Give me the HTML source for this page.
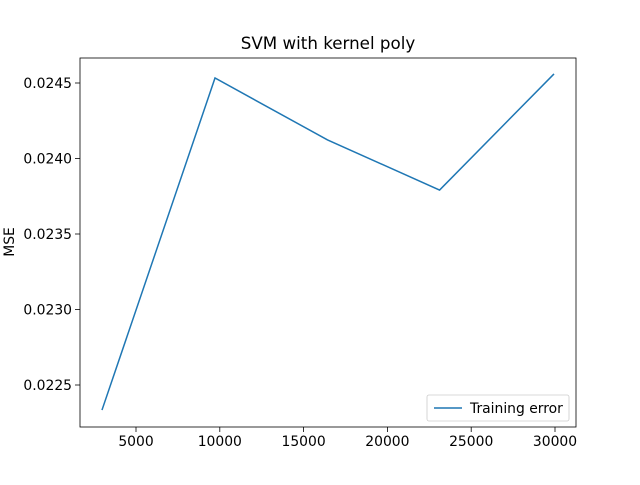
<!DOCTYPE html>
<html><head><meta charset="utf-8"><style>
body{margin:0;background:#fff;}
svg text{font-family:"DejaVu Sans","Liberation Sans",sans-serif;}
</style></head><body>
<svg id="chart" width="640" height="480" xmlns="http://www.w3.org/2000/svg">
<rect width="640" height="480" fill="#fff"/>
<text x="328" y="49" font-size="16.7" text-anchor="middle">SVM with kernel poly</text>
<text transform="translate(14,242) rotate(-90)" font-size="13.9" text-anchor="middle">MSE</text>
<g id="xticks"></g><g id="yticks"></g>
<polyline id="line" fill="none" stroke="#1f77b4" stroke-width="1.5"/>
<rect x="80" y="58" width="496" height="369" fill="none" stroke="#000" stroke-width="0.8"/>
<g>
<rect x="427" y="395" width="142" height="26" rx="2" fill="#fff" stroke="#ccc" stroke-width="0.8"/>
<line x1="434" y1="408" x2="462" y2="408" stroke="#1f77b4" stroke-width="1.5"/>
<text x="470" y="413" font-size="13.9">Training error</text>
</g>
</svg>
<script>
const xs=[2970,9714,16430,23113,29940];
const ys=[0.022334,0.024533,0.024123,0.023791,0.02456];
const xTicks=[5000,10000,15000,20000,25000,30000];
const yTicks=[0.0225,0.0230,0.0235,0.0240,0.0245];
const yLabels=["0.0225","0.0230","0.0235","0.0240","0.0245"];
const sx=v=>136+(v-5000)*(419/25000);
const sy=v=>385-(v-0.0225)*151000;
const NS="http://www.w3.org/2000/svg";
const line=document.getElementById('line');
line.setAttribute('points',xs.map((x,i)=>sx(x)+','+sy(ys[i])).join(' '));
const gx=document.getElementById('xticks');
xTicks.forEach(t=>{
 const l=document.createElementNS(NS,'line');
 l.setAttribute('x1',sx(t));l.setAttribute('x2',sx(t));l.setAttribute('y1',427);l.setAttribute('y2',432);l.setAttribute('stroke','#000');l.setAttribute('stroke-width','0.8');
 
 
 gx.appendChild(l);
 const tx=document.createElementNS(NS,'text');
 tx.setAttribute('x',sx(t));tx.setAttribute('y',446);tx.setAttribute('font-size','13.9');tx.setAttribute('text-anchor','middle');
 tx.textContent=t;
 
 
 gx.appendChild(tx);
});
const gy=document.getElementById('yticks');
yTicks.forEach((t,i)=>{
 const l=document.createElementNS(NS,'line');
 l.setAttribute('x1',75);l.setAttribute('x2',80);l.setAttribute('y1',sy(t));l.setAttribute('y2',sy(t));l.setAttribute('stroke','#000');l.setAttribute('stroke-width','0.8');
 
 
 gy.appendChild(l);
 const tx=document.createElementNS(NS,'text');
 tx.setAttribute('x',72);tx.setAttribute('y',sy(t)+5);tx.setAttribute('font-size','13.9');tx.setAttribute('text-anchor','end');
 tx.textContent=yLabels[i];
 
 
 gy.appendChild(tx);
});
</script>
</body></html>
